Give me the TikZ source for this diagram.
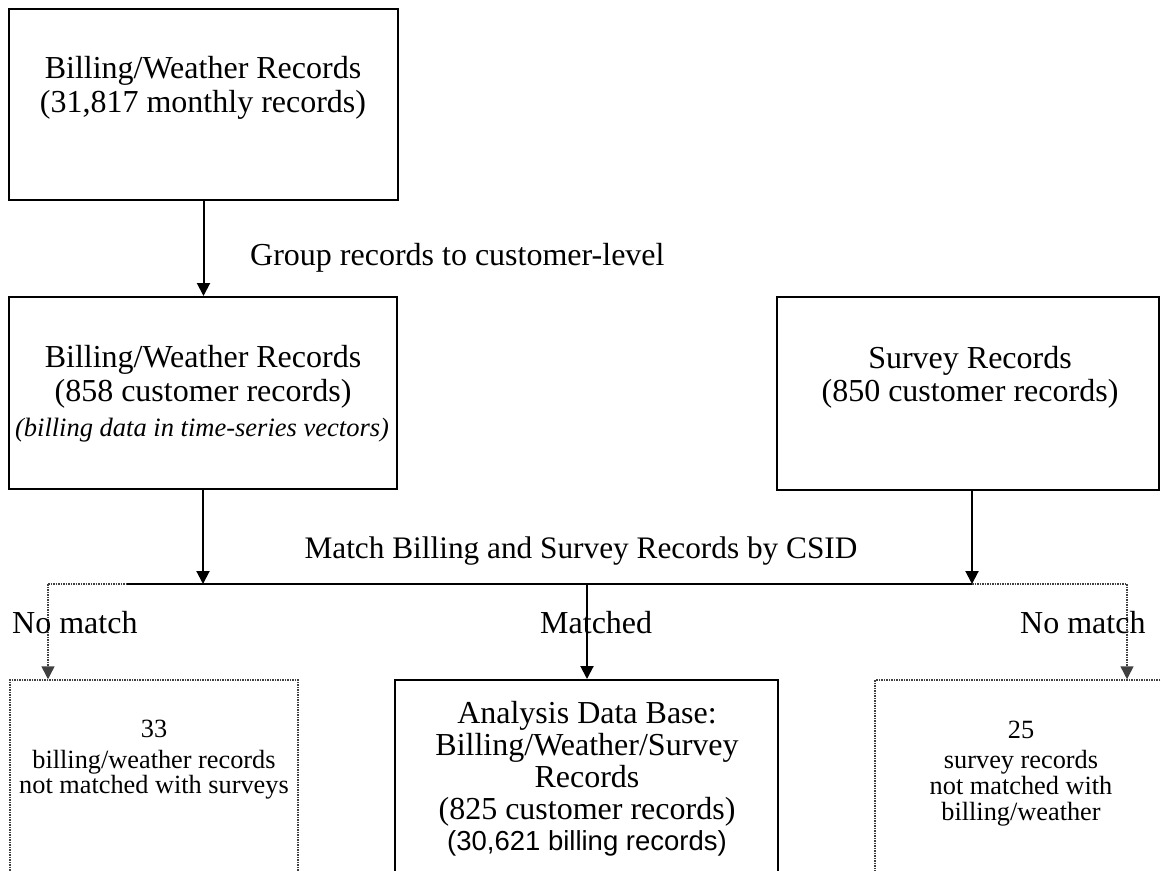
\documentclass[tikz,border=0pt]{standalone}
\usepackage{fontspec}
\setmainfont{Liberation Serif}
\setsansfont{Liberation Sans}
\usetikzlibrary{arrows.meta}
\tikzset{
  solidbox/.style={draw=black, line width=2pt, rectangle, inner sep=0pt},
  dotbox/.style={draw=black!75, line width=1.5pt, dash pattern=on 1.5pt off 1pt, rectangle, inner sep=0pt},
  solidline/.style={draw=black, line width=2pt},
  dotline/.style={draw=black!75, line width=1.5pt, dash pattern=on 1.5pt off 1pt},
  arr/.style={solidline, -{Triangle[width=13pt,length=13pt]}},
  dotarr/.style={dotline, -{Triangle[width=13pt,length=13pt]}},
  big/.style={inner sep=0pt, anchor=base, font=\fontsize{32}{36}\selectfont},
  bigw/.style={inner sep=0pt, anchor=base west, font=\fontsize{32}{36}\selectfont},
  small/.style={inner sep=0pt, anchor=base, font=\fontsize{26.3}{30}\selectfont},
  ital/.style={inner sep=0pt, anchor=base, font=\fontsize{26.5}{30}\selectfont\itshape},
  sans/.style={inner sep=0pt, anchor=base, font=\sffamily\fontsize{27.5}{32}\selectfont}
}
\begin{document}
\begin{tikzpicture}[x=1pt,y=-1pt]
\useasboundingbox (0,0) rectangle (1161,870);
\fill[white] (0,0) rectangle (1161,870);
\clip (0,0) rectangle (1161,870);

% boxes
\node[solidbox, minimum width=389pt, minimum height=191pt] (b1) at (203.5,104.5) {};
\node[solidbox, minimum width=388pt, minimum height=192pt] (b2) at (203,393) {};
\node[solidbox, minimum width=382pt, minimum height=193pt] (b3) at (968,393.5) {};
\node[dotbox, minimum width=288pt, minimum height=220pt] (b4) at (154,790) {};
\node[solidbox, minimum width=383pt, minimum height=220pt] (b5) at (586.5,790) {};
\node[dotbox, minimum width=325pt, minimum height=220pt] (b6) at (1037.5,790) {};

% junction points
\coordinate (jl) at (48,584);
\coordinate (js) at (127,584);
\coordinate (jm) at (587,584);
\coordinate (jr) at (972,584);
\coordinate (jrr) at (1127,584);

% connectors
\draw[arr] (b1.south) -- (b1.south |- b2.north);
\draw[arr] (b2.south) -- (b2.south |- jm);
\draw[arr] (jr |- b3.south) -- (jr);
\draw[solidline] (js) -- (jr);
\draw[dotline] (jl) -- (js);
\draw[dotline] (jr) -- (jrr);
\draw[dotarr] (jl) -- (jl |- b4.north);
\draw[arr] (jm) -- (jm |- b5.north);
\draw[dotarr] (jrr) -- (jrr |- b6.north);

% texts box 1
\node[big] (t1a) at (203,78) {Billing/Weather Records};
\node[big] (t1b) at (203,112) {(31,817 monthly records)};
% label
\node[bigw] (lg) at (250,265) {Group records to customer-level};
% box 2
\node[big] (t2a) at (203,367) {Billing/Weather Records};
\node[big] (t2b) at (203,401) {(858 customer records)};
\node[ital] (t2c) at (202,436) {(billing data in time-series vectors)};
% box 3
\node[big] (t3a) at (970,368) {Survey Records};
\node[big] (t3b) at (970,401) {(850 customer records)};
% match label
\node[inner sep=0pt, anchor=base, font=\fontsize{31.3}{36}\selectfont] (lm) at (581,558) {Match Billing and Survey Records by CSID};
% branch labels
\node[bigw] (ln1) at (12,633) {No match};
\node[bigw] (lmt) at (540,633) {Matched};
\node[bigw] (ln2) at (1020,633) {No match};
% box 5
\node[big] (t5a) at (587,723) {Analysis Data Base:};
\node[big] (t5b) at (587,755) {Billing/Weather/Survey};
\node[big] (t5c) at (587,787) {Records};
\node[big] (t5d) at (587,819) {(825 customer records)};
\node[sans] (t5e) at (587,850) {(30,621 billing records)};
% box 4
\node[small] (t4a) at (154,737) {33};
\node[small] (t4b) at (154,768) {billing/weather records};
\node[small] (t4c) at (154,793) {not matched with surveys};
% box 6
\node[small] (t6a) at (1021,738) {25};
\node[small] (t6b) at (1021,768) {survey records};
\node[small] (t6c) at (1021,794) {not matched with};
\node[small] (t6d) at (1021,820) {billing/weather};
\end{tikzpicture}
\end{document}
